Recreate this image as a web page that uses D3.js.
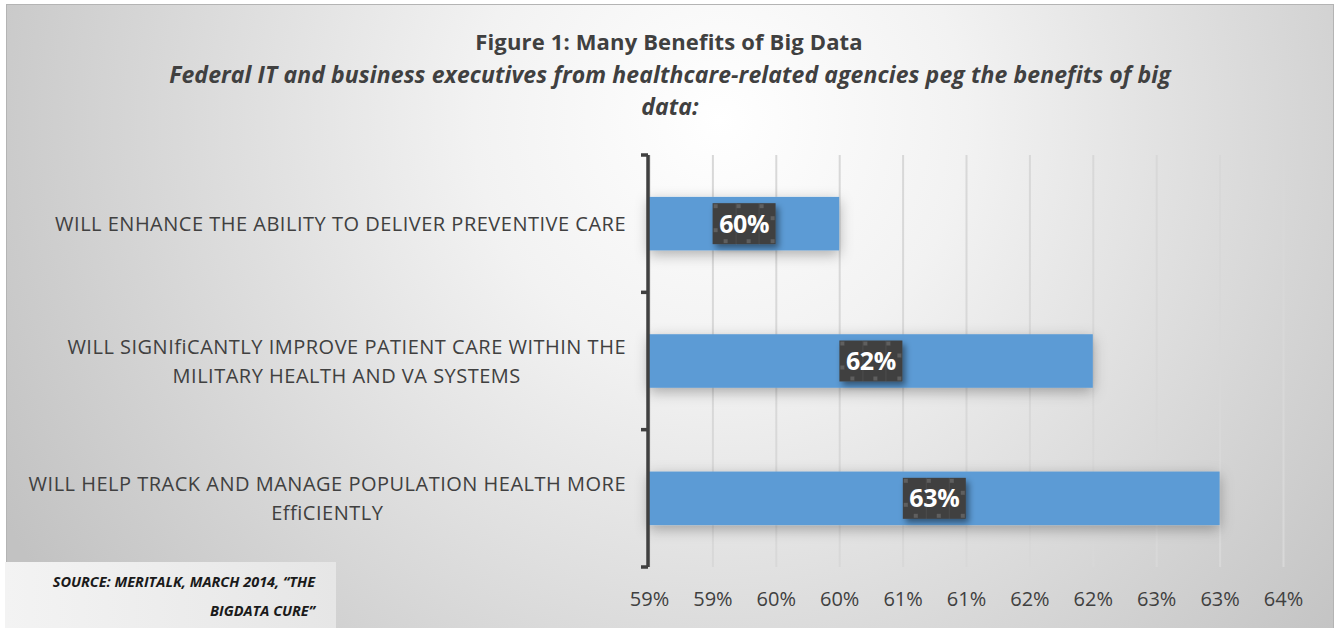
<!DOCTYPE html>
<html>
<head>
<meta charset="utf-8">
<script src="https://cdn.jsdelivr.net/npm/d3@7"></script>
<style>
  html, body { margin: 0; padding: 0; background: #fff; }
  svg { display: block; font-family: "Open Sans", Lato, sans-serif; }
</style>
</head>
<body>
<svg width="1336" height="628"></svg>
<script>
const categories = [
  ['WILL ENHANCE THE ABILITY TO DELIVER PREVENTIVE CARE'],
  ['WILL SIGNIfiCANTLY IMPROVE PATIENT CARE WITHIN THE', 'MILITARY HEALTH AND VA SYSTEMS'],
  ['WILL HELP TRACK AND MANAGE POPULATION HEALTH MORE', 'EffiCIENTLY']
];
const values = [60, 62, 63];
const tickValues = [58.5, 59, 59.5, 60, 60.5, 61, 61.5, 62, 62.5, 63, 63.5];
const tickLabels = ['59%', '59%', '60%', '60%', '61%', '61%', '62%', '62%', '63%', '63%', '64%'];
const title = 'Figure 1: Many Benefits of Big Data';
const subtitle = ['Federal IT and business executives from healthcare-related agencies peg the benefits of big', 'data:'];
const source = ['SOURCE: MERITALK, MARCH 2014, \u201CTHE', 'BIGDATA CURE\u201D'];

const svg = d3.select('svg');
const defs = svg.append('defs');

// background gradient
const bg = defs.append('radialGradient').attr('id', 'bg')
  .attr('gradientUnits', 'userSpaceOnUse')
  .attr('cx', 720).attr('cy', 120).attr('r', 820);
bg.append('stop').attr('offset', '0').attr('stop-color', '#ffffff');
bg.append('stop').attr('offset', '0.3').attr('stop-color', '#f2f2f2');
bg.append('stop').attr('offset', '1').attr('stop-color', '#c2c2c2');

const grid = defs.append('linearGradient').attr('id', 'grid')
  .attr('gradientUnits', 'userSpaceOnUse')
  .attr('x1', 0).attr('y1', 155).attr('x2', 0).attr('y2', 568);
grid.append('stop').attr('offset', '0').attr('stop-color', '#d8d8d8');
grid.append('stop').attr('offset', '1').attr('stop-color', '#969696');

const src = defs.append('linearGradient').attr('id', 'src')
  .attr('x1', 0).attr('y1', 0).attr('x2', 1).attr('y2', 0);
src.append('stop').attr('offset', '0').attr('stop-color', '#f3f3f3');
src.append('stop').attr('offset', '1').attr('stop-color', '#e6e6e6');

const barShadow = defs.append('filter').attr('id', 'barShadow')
  .attr('x', '-10%').attr('y', '-60%').attr('width', '130%').attr('height', '220%');
barShadow.append('feDropShadow').attr('dx', 0).attr('dy', 4).attr('stdDeviation', 7)
  .attr('flood-color', '#000').attr('flood-opacity', 0.3);

const boxShadow = defs.append('filter').attr('id', 'boxShadow')
  .attr('x', '-20%').attr('y', '-20%').attr('width', '150%').attr('height', '160%');
boxShadow.append('feDropShadow').attr('dx', 3).attr('dy', 4).attr('stdDeviation', 3)
  .attr('flood-color', '#000').attr('flood-opacity', 0.45);

// checkered label box texture
const pat = defs.append('pattern').attr('id', 'dots')
  .attr('patternUnits', 'objectBoundingBox').attr('width', 1).attr('height', 1);
pat.append('rect').attr('width', 63).attr('height', 41).attr('fill', '#404040');
[[1, 1], [24, 1], [47, 1], [58, 13], [1, 25], [11, 36], [34, 36], [58, 36]].forEach(([px, py]) => {
  pat.append('rect').attr('x', px).attr('y', py).attr('width', 4).attr('height', 4).attr('fill', '#5e5e5e');
});
[23, 46].forEach(px => {
  pat.append('rect').attr('x', px).attr('y', 0).attr('width', 1).attr('height', 41).attr('fill', '#4a4a4a');
});

svg.append('rect')
  .attr('x', 6.5).attr('y', 4.5).attr('width', 1327).attr('height', 630)
  .attr('fill', 'url(#bg)').attr('stroke', '#b4b4b4').attr('stroke-width', 1);

// scales
const x = d3.scaleLinear().domain([58.5, 63.5]).range([649, 1283]);
const y = d3.scaleBand().domain(d3.range(categories.length)).range([155, 567])
  .paddingInner(0.61).paddingOuter(0.305);

// titles
svg.append('text').attr('x', 669).attr('y', 50).attr('text-anchor', 'middle')
  .attr('font-size', 22).attr('font-weight', 'bold').attr('fill', '#404040')
  .attr('letter-spacing', 0.15).text(title);
svg.append('g').selectAll('text').data(subtitle).join('text')
  .attr('x', 670).attr('y', (d, i) => 83 + i * 32).attr('text-anchor', 'middle')
  .attr('font-size', 23).attr('font-weight', 'bold').attr('font-style', 'italic')
  .attr('letter-spacing', 0.1).attr('fill', '#404040').text(d => d);

// gridlines via axis
const xAxis = d3.axisBottom(x).tickValues(tickValues)
  .tickFormat((d, i) => tickLabels[i]).tickSize(-(567 - 155)).tickPadding(25);
const gx = svg.append('g').attr('transform', 'translate(0,567)').call(xAxis);
gx.select('.domain').remove();
gx.selectAll('.tick line').attr('stroke', 'url(#grid)').attr('stroke-width', 2);
gx.selectAll('.tick text').attr('font-size', 20).attr('fill', '#404040')
  .attr('font-family', '"Open Sans", sans-serif');

// bars
svg.append('g').selectAll('rect').data(values).join('rect')
  .attr('x', x(58.5))
  .attr('y', (d, i) => y(i))
  .attr('width', d => x(d) - x(58.5))
  .attr('height', y.bandwidth())
  .attr('fill', '#5b9bd5')
  .attr('filter', 'url(#barShadow)');

// value labels
const lab = svg.append('g').selectAll('g').data(values).join('g')
  .attr('transform', (d, i) => `translate(${(x(58.5) + x(d)) / 2},${y(i) + y.bandwidth() / 2})`);
lab.append('rect').attr('x', -31.5).attr('y', -20.5).attr('width', 63).attr('height', 41)
  .attr('fill', 'url(#dots)').attr('filter', 'url(#boxShadow)');
lab.append('text').attr('text-anchor', 'middle').attr('dy', '0.36em')
  .attr('font-size', 25).attr('font-weight', 'bold').attr('fill', '#ffffff')
  .attr('letter-spacing', -0.4).text(d => d + '%');

// y axis with ticks at band boundaries
const bounds = d3.range(categories.length + 1).map(i => y.range()[0] + i * y.step());
const gy = svg.append('g').attr('stroke', '#404040').attr('stroke-width', 3.5);
gy.append('line').attr('x1', 648).attr('x2', 648).attr('y1', bounds[0]).attr('y2', bounds[bounds.length - 1]);
gy.selectAll('.t').data(bounds).join('line').attr('class', 't')
  .attr('x1', 641).attr('x2', 648).attr('y1', d => d).attr('y2', d => d);

// category labels
const cat = svg.append('g').selectAll('text').data(categories).join('text')
  .attr('text-anchor', 'middle').attr('font-size', 20).attr('fill', '#404040')
  .attr('letter-spacing', 0.5);
cat.each(function (lines, i) {
  const t = d3.select(this);
  const cy = y(i) + y.bandwidth() / 2;
  const lh = 29;
  lines.forEach((ln, j) => {
    t.append('tspan').attr('x', 0).attr('y', cy + (j - (lines.length - 1) / 2) * lh).attr('dy', '0.35em').text(ln);
  });
  // right-align the block at x = 626, lines centered among themselves
  const w = this.getBBox().width;
  t.selectAll('tspan').attr('x', 626 - w / 2);
});

// source box
svg.append('rect').attr('x', 5).attr('y', 562).attr('width', 331).attr('height', 70).attr('fill', 'url(#src)');
svg.append('g').selectAll('text').data(source).join('text')
  .attr('x', 315).attr('y', (d, i) => 587 + i * 29).attr('text-anchor', 'end')
  .attr('font-size', 14.5).attr('font-weight', 'bold').attr('font-style', 'italic')
  .attr('fill', '#1a1a1a').text(d => d);
</script>
</body>
</html>
